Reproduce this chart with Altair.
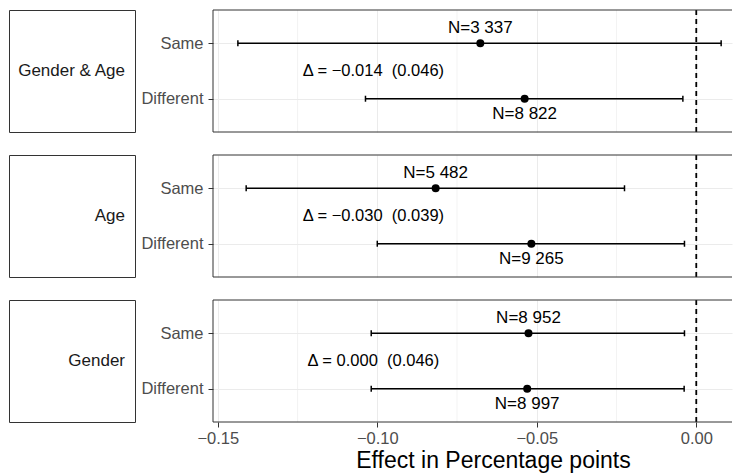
import altair as alt
import pandas as pd

# ---- data ----
panels = ["Gender & Age", "Age", "Gender"]
groups = ["Same", "Different"]
estimate = [[-0.0677, -0.0538], [-0.0817, -0.0517], [-0.0526, -0.0530]]
lower = [[-0.1437, -0.1037], [-0.1411, -0.1000], [-0.1019, -0.1019]]
upper = [[0.0078, -0.0042], [-0.0225, -0.0037], [-0.0037, -0.0038]]
n_obs = [[3337, 8822], [5482, 9265], [8952, 8997]]
delta = ["\u22120.014", "\u22120.030", "0.000"]
delta_se = ["0.046", "0.039", "0.046"]
x_major = [-0.15, -0.10, -0.05, 0.00]
x_minor = [-0.125, -0.075, -0.025]
group_pos = {"Same": 2, "Different": 1}
delta_x = -0.1012

FONT = "Liberation Sans"
GRID = "#EBEBEB"
DARK = "#333333"

PW, PH = 519, 122
xscale = alt.Scale(domain=[-0.1515, 0.0112], nice=False, zero=False)
yscale = alt.Scale(domain=[0.4, 2.6], nice=False, zero=False)


def make_panel(i, bottom):
    rows = []
    for j, g in enumerate(groups):
        rows.append(dict(group=g, pos=group_pos[g], est=estimate[i][j],
                         lo=lower[i][j], hi=upper[i][j],
                         label="N=" + f"{n_obs[i][j]:,}".replace(",", " ")))
    df = pd.DataFrame(rows)

    if bottom:
        xaxis = alt.Axis(values=x_major, format=".2f", title="Effect in Percentage points",
                         grid=True, gridColor=GRID, gridWidth=1, domain=False,
                         ticks=True, tickSize=5, tickColor=DARK, tickWidth=1,
                         labelFontSize=16.5, labelColor="#4D4D4D", labelPadding=3,
                         titleFontSize=23, titleFontWeight="normal", titleColor="black",
                         titlePadding=3, titleX=280, titleAlign="center",
                         labelFont=FONT, titleFont=FONT)
    else:
        xaxis = alt.Axis(values=x_major, labels=False, ticks=False, domain=False,
                         title=None, grid=True, gridColor=GRID, gridWidth=1)
    yaxis = alt.Axis(values=[1, 2], labelExpr="datum.value == 2 ? 'Same' : 'Different'",
                     title=None, grid=True, gridColor=GRID, gridWidth=1, domain=False,
                     tickSize=5, tickColor=DARK, tickWidth=1, labelPadding=5,
                     labelFontSize=16.5, labelColor="#4D4D4D", labelFont=FONT)

    def X(f):
        return alt.X(f, type="quantitative", scale=xscale, axis=xaxis)

    def Y(f):
        return alt.Y(f, type="quantitative", scale=yscale, axis=yaxis)

    base = alt.Chart(df)
    minor = alt.Chart(pd.DataFrame({"v": x_minor})).mark_rule(
        color=GRID, strokeWidth=0.6).encode(x=X("v"))
    zero_line = alt.Chart(pd.DataFrame({"z": [0.0]})).mark_rule(
        color="black", strokeWidth=1.8, strokeDash=[5, 4]).encode(x=X("z"))
    bars = base.mark_rule(color="black", strokeWidth=1.5).encode(
        x=X("lo"), x2="hi", y=Y("pos"))
    cap_lo = base.mark_tick(orient="vertical", size=6, thickness=1.5, color="black",
                            opacity=1).encode(x=X("lo"), y=Y("pos"))
    cap_hi = base.mark_tick(orient="vertical", size=6, thickness=1.5, color="black",
                            opacity=1).encode(x=X("hi"), y=Y("pos"))
    pts = base.mark_circle(size=64, color="black", opacity=1).encode(
        x=X("est"), y=Y("pos"))
    lab_same = base.transform_filter(alt.datum.group == "Same").mark_text(
        dy=-15, fontSize=17, font=FONT, color="black", baseline="middle").encode(
        x=X("est"), y=Y("pos"), text="label:N")
    lab_diff = base.transform_filter(alt.datum.group == "Different").mark_text(
        dy=15, fontSize=17, font=FONT, color="black", baseline="middle").encode(
        x=X("est"), y=Y("pos"), text="label:N")
    mid = sum(group_pos.values()) / len(group_pos)
    ddf = pd.DataFrame({"x": [delta_x], "pos": [mid],
                        "label": [f"\u0394 = {delta[i]}\u00a0\u00a0({delta_se[i]})"]})
    dlab = alt.Chart(ddf).mark_text(fontSize=16.5, font=FONT, color="black",
                                    baseline="middle", align="center").encode(
        x=X("x"), y=Y("pos"), text="label:N")
    # panel frame (right side is cropped in the reference)
    fr = alt.Chart(pd.DataFrame({"f": [0]}))
    f_top = fr.mark_rule(color=DARK, strokeWidth=1).encode(
        x=alt.value(0), x2=alt.value(PW), y=alt.value(0))
    f_bot = fr.mark_rule(color=DARK, strokeWidth=1).encode(
        x=alt.value(0), x2=alt.value(PW), y=alt.value(PH))
    f_left = fr.mark_rule(color=DARK, strokeWidth=1).encode(
        x=alt.value(0), y=alt.value(0), y2=alt.value(PH))
    return alt.layer(minor, zero_line, bars, cap_lo, cap_hi, pts, lab_same, lab_diff,
                     dlab, f_top, f_bot, f_left).properties(width=PW, height=PH)


def make_strip(i):
    return alt.Chart(pd.DataFrame({"name": [panels[i]]})).mark_text(
        align="right", baseline="middle", fontSize=17, font=FONT, color="#1A1A1A").encode(
        x=alt.value(116), y=alt.value(PH / 2), text="name:N").properties(
        width=126, height=PH, view=alt.ViewBackground(stroke=DARK, strokeWidth=1))


cells = []
for i in range(len(panels)):
    cells.append(make_strip(i))
    cells.append(make_panel(i, i == len(panels) - 1))

chart = alt.concat(*cells, columns=2, spacing={"row": 23, "column": 78},
                   bounds="flush").properties(
    padding=0, background="white"
).configure(font=FONT).configure_view(stroke="transparent")

chart.save("out.html", embed_options={"renderer": "svg", "actions": False})
